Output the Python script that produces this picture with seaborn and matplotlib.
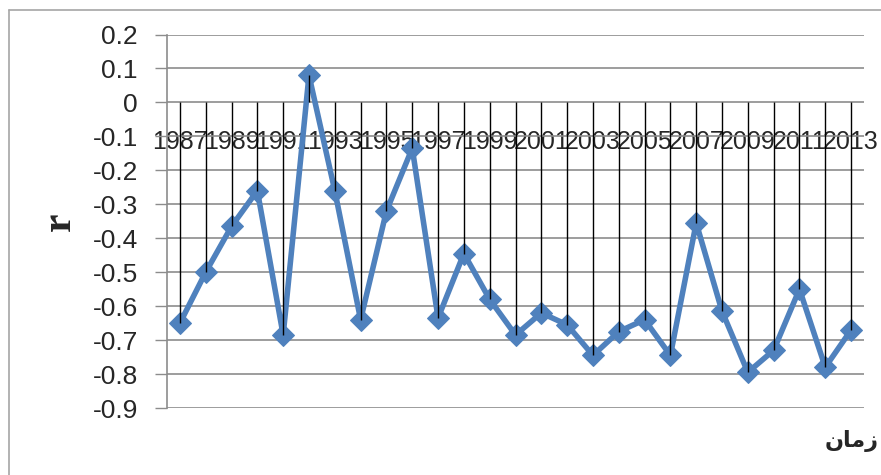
import numpy as np
import pandas as pd
import matplotlib
matplotlib.use("Agg")
import matplotlib.pyplot as plt
from matplotlib.lines import Line2D
import seaborn as sns

# values
years = list(range(1987, 2014))
r_values = [-0.65, -0.50, -0.365, -0.26, -0.685, 0.08, -0.26, -0.64, -0.32, -0.135,
            -0.635, -0.445, -0.58, -0.685, -0.62, -0.655, -0.745, -0.675, -0.64, -0.745,
            -0.355, -0.615, -0.795, -0.73, -0.55, -0.78, -0.67]
y_ticks = [0.2, 0.1, 0, -0.1, -0.2, -0.3, -0.4, -0.5, -0.6, -0.7, -0.8, -0.9]
x_label = "زمان"
y_label = "r"

df = pd.DataFrame({"year": years, "r": r_values})

sns.set_theme(style="white")
plt.rcParams["font.family"] = ["Liberation Sans", "DejaVu Sans"]

fig = plt.figure(figsize=(8.81, 4.75), dpi=100)
ax = fig.add_axes([167 / 881, 1 - 408 / 475, (864 - 167) / 881, (408 - 34.5) / 475])

line_color = "#4f81bd"
sns.lineplot(data=df, x="year", y="r", ax=ax, color=line_color, lw=4,
             marker="D", markersize=11, markeredgecolor=line_color, zorder=3)
# drop lines from the zero axis to each point
ax.vlines(df["year"], 0, df["r"], color="black", lw=1, zorder=4)

ax.set_xlim(years[0] - 0.5, years[-1] + 0.5)
ax.set_ylim(-0.9, 0.2)
ax.set_yticks(y_ticks)
ax.set_yticklabels([f"{t:g}" for t in y_ticks], fontsize=19)
ax.yaxis.grid(True, color="#8c8c8c", lw=1.2)
ax.xaxis.grid(False)
ax.tick_params(axis="y", length=9, width=1, color="#8c8c8c", pad=12, left=True)

# category labels sit on the zero line, every second year
ax.spines["bottom"].set_position(("data", 0))
ax.spines["bottom"].set_visible(False)
ax.set_xticks(years[::2])
ax.set_xticklabels([str(y) for y in years[::2]], fontsize=18)
ax.tick_params(axis="x", length=0, pad=20)

for s in ["top", "right"]:
    ax.spines[s].set_visible(False)
ax.spines["left"].set_color("#8c8c8c")
ax.spines["left"].set_linewidth(1.2)

ax.set_xlabel("")
ax.set_ylabel(y_label, fontsize=30, fontweight="bold", family="Liberation Serif",
              labelpad=10)

# Arabic word in presentation forms, visual order, so it shows joined
shaped = "\uFEE5\uFE8E\uFEE3\uFEAF"
fig.text(852 / 881, 1 - 441 / 475, shaped, ha="center", va="center",
         fontsize=16, fontweight="bold", family=["DejaVu Sans"])

# outer chart frame (top and left visible)
frame = "#a6a6a6"
fig.add_artist(Line2D([9 / 881, 1], [1 - 10 / 475] * 2, color=frame, lw=1.2))
fig.add_artist(Line2D([9 / 881] * 2, [0, 1 - 10 / 475], color=frame, lw=1.2))

fig.savefig("out.png", dpi=100)
